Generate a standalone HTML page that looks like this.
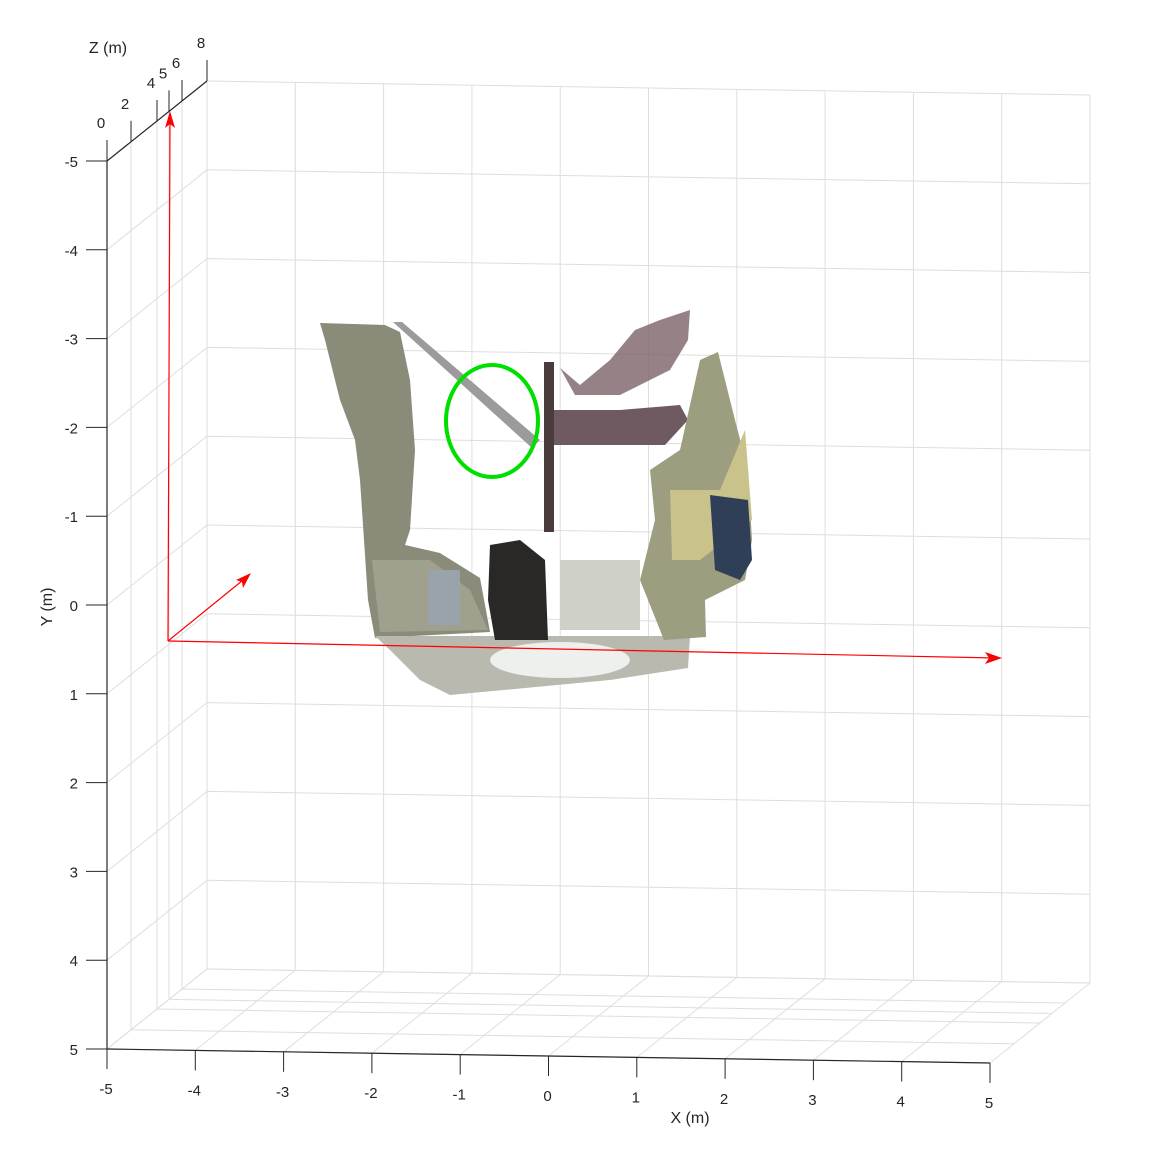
<!DOCTYPE html>
<html><head><meta charset="utf-8"><style>
body{margin:0;background:#fff}
svg{display:block;font-family:"Liberation Sans",sans-serif}
</style></head><body>
<svg id="chart" width="1160" height="1149" viewBox="0 0 1160 1149" xmlns="http://www.w3.org/2000/svg">
<g id="grid"></g>
<g id="cloud">
  <polygon fill="#8b8b79" points="320,323 385,325 400,332 410,380 415,450 410,530 405,545 440,553 480,578 490,632 375,638 368,600 360,480 355,440 340,400 325,340"/>
  <polygon fill="#a9aa98" opacity="0.7" points="372,560 430,560 470,590 488,630 380,632"/>
  <polygon fill="#b9b9b0" points="375,636 690,636 688,668 610,680 450,695 420,680 390,650"/>
  <ellipse cx="560" cy="660" rx="70" ry="18" fill="#eef0ee"/>
  <polygon fill="#9d9a9c" points="393,322 402,322 540,440 532,448"/>
  <polygon fill="#7a6168" opacity="0.8" points="560,368 580,385 610,360 635,330 660,320 690,310 688,340 670,370 620,395 575,395"/>
  <polygon fill="#6e5a60" points="550,410 620,410 680,405 688,420 665,445 550,445"/>
  <rect x="544" y="362" width="10" height="170" fill="#4a3c3c"/>
  <polygon fill="#9d9e80" points="650,470 680,450 700,360 718,352 735,420 748,470 752,540 745,580 705,600 706,637 664,640 640,580 655,520"/>
  <polygon fill="#c9c28a" points="670,490 720,490 745,430 752,520 700,560 672,560"/>
  <polygon fill="#2f3f58" points="710,495 748,500 752,560 740,580 715,570"/>
  <polygon fill="#2a2826" points="490,545 520,540 545,560 548,640 495,640 488,600"/>
  <rect x="560" y="560" width="80" height="70" fill="#cfd0c8"/>
  <rect x="428" y="570" width="32" height="55" fill="#9ba3aa"/>
</g>
<ellipse cx="492" cy="421" rx="46" ry="56" fill="none" stroke="#00e000" stroke-width="4"/>
<g id="axes"></g>
<g stroke="#ff0000" stroke-width="1.2" fill="#ff0000">
  <line x1="168" y1="641" x2="170" y2="118"/>
  <polygon points="170,111 165,128 170,124 175,128" stroke="none"/>
  <line x1="168" y1="641" x2="996" y2="658"/>
  <polygon points="1002,658 985,652 989,658 985,664" stroke="none"/>
  <line x1="168" y1="641" x2="248" y2="576"/>
  <polygon points="251,573 236,580 242,582 243,588" stroke="none"/>
</g>
</svg>
<script>
const xTicks=[-5,-4,-3,-2,-1,0,1,2,3,4,5];
const yTicks=[-5,-4,-3,-2,-1,0,1,2,3,4,5];
const zTicks=[0,2,4,5,6,8];
const zDepth=[0,0.24,0.5,0.62,0.75,1];
function tz(z){const i=zTicks.indexOf(z);if(i>=0)return zDepth[i];
 for(let k=0;k<zTicks.length-1;k++){if(z>=zTicks[k]&&z<=zTicks[k+1]){const f=(z-zTicks[k])/(zTicks[k+1]-zTicks[k]);return zDepth[k]+f*(zDepth[k+1]-zDepth[k]);}}return 0;}
function P(x,y,z){const t=tz(z);return [107+88.3*(x+5)+100*t,161+88.8*(y+5)+1.4*(x+5)-80*t];}
const NS="http://www.w3.org/2000/svg";
function ln(g,a,b,col,w,name){const l=document.createElementNS(NS,'line');
l.setAttribute('x1',a[0]);l.setAttribute('y1',a[1]);l.setAttribute('x2',b[0]);l.setAttribute('y2',b[1]);
l.setAttribute('stroke',col);l.setAttribute('stroke-width',w);


g.appendChild(l);}
function tx(g,x,y,s,anchor,name,fs){const t=document.createElementNS(NS,'text');
t.setAttribute('x',x);t.setAttribute('y',y);t.setAttribute('font-size',fs||'15');t.setAttribute('fill','#262626');t.setAttribute('text-anchor',anchor);
t.textContent=s;


g.appendChild(t);return t;}
const G=document.getElementById('grid'),A=document.getElementById('axes');
const gc='#dedede';
xTicks.forEach(x=>{ln(G,P(x,-5,8),P(x,5,8),gc,1,'grid-back-x');ln(G,P(x,5,0),P(x,5,8),gc,1,'grid-floor-x');});
yTicks.forEach(y=>{ln(G,P(-5,y,8),P(5,y,8),gc,1,'grid-back-y');ln(G,P(-5,y,0),P(-5,y,8),gc,1,'grid-side-y');});
zTicks.forEach(z=>{ln(G,P(-5,-5,z),P(-5,5,z),gc,1,'grid-side-z');ln(G,P(-5,5,z),P(5,5,z),gc,1,'grid-floor-z');});
ln(A,P(-5,-5,0),P(-5,5,0),'#262626',1.2,'y-axis-line');
ln(A,P(-5,5,0),P(5,5,0),'#262626',1.2,'x-axis-line');
ln(A,P(-5,-5,0),P(-5,-5,8),'#262626',1.2,'z-axis-line');
yTicks.forEach(y=>{const p=P(-5,y,0);ln(A,[p[0]-21,p[1]],p,'#262626',1,'y-tick');tx(A,p[0]-29,p[1]+6,String(y),'end','y-tick-label');});
xTicks.forEach(x=>{const p=P(x,5,0);ln(A,p,[p[0],p[1]+20],'#262626',1,'x-tick');tx(A,p[0]-1,p[1]+45,String(x),'middle','x-tick-label');});
zTicks.forEach(z=>{const p=P(-5,-5,z);ln(A,p,[p[0],p[1]-21],'#262626',1,'z-tick');tx(A,p[0]-6,p[1]-33,String(z),'middle','z-tick-label');});
tx(A,108,53,'Z (m)','middle','z-axis-title','16');
tx(A,690,1123,'X (m)','middle','x-axis-title','16');
const yt=tx(A,0,0,'Y (m)','middle','y-axis-title','16');yt.setAttribute('transform','translate(52,607) rotate(-90)');
</script>
</body></html>
